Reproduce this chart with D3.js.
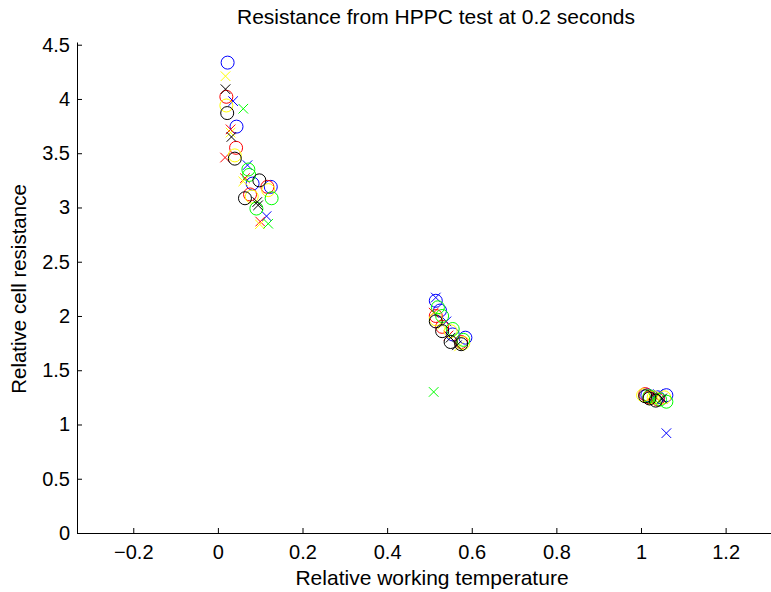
<!DOCTYPE html>
<html>
<head>
<meta charset="utf-8">
<script src="https://cdn.jsdelivr.net/npm/d3@7"></script>
<style>
  body { margin: 0; background: #fff; }
  svg { display: block; font-family: "Liberation Sans", Arial, sans-serif; }
  .axis text { font-size: 20px; fill: #000; }
  .axis path, .axis line { stroke: #000; }
</style>
</head>
<body>
<svg id="chart" width="771" height="592"></svg>
<script>
// tick values
const xTicks = [-0.2, 0, 0.2, 0.4, 0.6, 0.8, 1, 1.2];
const yTicks = [0, 0.5, 1, 1.5, 2, 2.5, 3, 3.5, 4, 4.5];

// each colour: circles (o) and crosses (x)
const blueOx = [0.023, 0.044, 0.082, 0.125, 0.515, 0.525, 0.555, 0.585, 1.015, 1.04, 1.06];
const blueOy = [4.335, 3.745, 3.22, 3.19, 2.14, 2.05, 1.83, 1.80, 1.27, 1.25, 1.27];
const blueXx = [0.036, 0.07, 0.115, 0.515, 0.54, 1.04, 1.06];
const blueXy = [3.98, 3.39, 2.92, 2.17, 1.95, 1.28, 0.92];

const redOx = [0.02, 0.043, 0.076, 0.117, 0.515, 0.53, 0.575, 1.01, 1.02, 1.04];
const redOy = [4.02, 3.55, 3.12, 3.19, 2.00, 1.90, 1.76, 1.28, 1.25, 1.23];
const redXx = [0.03, 0.017, 0.064, 0.10, 0.51, 0.545, 1.035];
const redXy = [3.72, 3.46, 3.27, 2.87, 2.03, 1.82, 1.25];

const yellowOx = [0.02, 0.04, 0.08, 0.119, 0.515, 0.55, 0.58, 1.005, 1.03, 1.055];
const yellowOy = [3.94, 3.48, 3.10, 3.16, 1.97, 1.86, 1.75, 1.27, 1.25, 1.25];
const yellowXx = [0.018, 0.03, 0.06, 0.099, 0.53, 0.57, 1.03];
const yellowXy = [4.21, 3.69, 3.24, 2.845, 1.92, 1.72, 1.22];

const blackOx = [0.022, 0.04, 0.064, 0.098, 0.515, 0.53, 0.55, 0.575, 1.01, 1.02, 1.035];
const blackOy = [3.87, 3.45, 3.085, 3.25, 1.95, 1.86, 1.76, 1.74, 1.26, 1.24, 1.22];
const blackXx = [0.018, 0.032, 0.095, 0.093, 0.55, 0.565, 1.05];
const blackXy = [4.09, 3.65, 3.02, 3.05, 1.80, 1.73, 1.24];

const greenOx = [0.072, 0.074, 0.127, 0.091, 0.52, 0.53, 0.555, 0.58, 1.02, 1.045, 1.06];
const greenOy = [3.35, 3.30, 3.085, 2.99, 2.08, 2.00, 1.88, 1.78, 1.26, 1.23, 1.21];
const greenXx = [0.06, 0.119, 0.51, 1.03];
const greenXy = [3.91, 2.85, 1.30, 1.24];

const series = [
  { color: '#0000ff', ox: blueOx, oy: blueOy, xx: blueXx, xy: blueXy },
  { color: '#ff0000', ox: redOx, oy: redOy, xx: redXx, xy: redXy },
  { color: '#ffff00', ox: yellowOx, oy: yellowOy, xx: yellowXx, xy: yellowXy },
  { color: '#00ff00', ox: greenOx, oy: greenOy, xx: greenXx, xy: greenXy },
  { color: '#000000', ox: blackOx, oy: blackOy, xx: blackXx, xy: blackXy }
];

const svg = d3.select('#chart');

const xScale = d3.scaleLinear()
  .domain([-0.333, 1.364])
  .range([77, 795]);
const yScale = d3.scaleLinear()
  .domain([0, 4.525])
  .range([533, 42]);

const fmt = d => d < 0 ? '\u2212' + Math.abs(d) : String(d);

const xAxis = d3.axisBottom(xScale)
  .tickValues(xTicks)
  .tickFormat(fmt)
  .tickSizeInner(-5)
  .tickSizeOuter(0)
  .tickPadding(12);
const yAxis = d3.axisLeft(yScale)
  .tickValues(yTicks)
  .tickFormat(fmt)
  .tickSizeInner(-5)
  .tickSizeOuter(0)
  .tickPadding(7);

svg.append('g')
  .attr('class', 'axis')
  .attr('transform', 'translate(0,533)')
  .call(xAxis);
svg.append('g')
  .attr('class', 'axis')
  .attr('transform', 'translate(77,0)')
  .call(yAxis);

const g = svg.append('g').attr('fill', 'none').attr('stroke-width', 1);

series.forEach(s => {
  g.selectAll(null)
    .data(d3.range(s.ox.length))
    .enter().append('circle')
    .attr('cx', i => xScale(s.ox[i]))
    .attr('cy', i => yScale(s.oy[i]))
    .attr('r', 6.5)
    .attr('stroke', s.color);

  g.selectAll(null)
    .data(d3.range(s.xx.length))
    .enter().append('path')
    .attr('d', i => {
      const cx = xScale(s.xx[i]), cy = yScale(s.xy[i]), h = 4.8;
      return `M${cx - h},${cy - h}L${cx + h},${cy + h}M${cx - h},${cy + h}L${cx + h},${cy - h}`;
    })
    .attr('stroke', s.color);
});

svg.append('text')
  .attr('x', 436)
  .attr('y', 24)
  .attr('text-anchor', 'middle')
  .style('font-size', '21px')
  .text('Resistance from HPPC test at 0.2 seconds');

svg.append('text')
  .attr('x', 432)
  .attr('y', 585)
  .attr('text-anchor', 'middle')
  .style('font-size', '21px')
  .text('Relative working temperature');

svg.append('text')
  .attr('transform', 'translate(26,289) rotate(-90)')
  .attr('text-anchor', 'middle')
  .style('font-size', '20.5px')
  .text('Relative cell resistance');
</script>
</body>
</html>
